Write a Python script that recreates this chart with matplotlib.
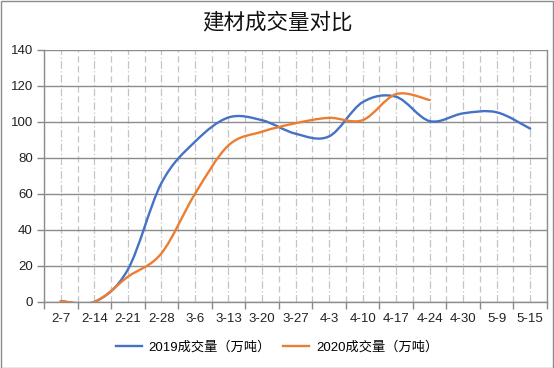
import matplotlib
matplotlib.use("Agg")
import matplotlib.pyplot as plt
from matplotlib.path import Path
from matplotlib.patches import PathPatch, Rectangle
from matplotlib.lines import Line2D
from matplotlib.ticker import FixedLocator, NullFormatter

plt.rcParams['font.family'] = ['Liberation Sans', 'Noto Sans CJK SC', 'DejaVu Sans']

dates = ['2-7', '2-14', '2-21', '2-28', '3-6', '3-13', '3-20', '3-27',
         '4-3', '4-10', '4-17', '4-24', '4-30', '5-9', '5-15']
vol_2019 = [0.5, 0, 18, 66, 89, 102.5, 101, 93.5, 92, 111, 114, 100.5, 104.8, 105.4, 96.3]
vol_2020 = [0.5, 0, 14, 27, 60, 87, 94.6, 99.3, 102.3, 101, 115.5, 112.2]

blue = '#4472C4'
orange = '#ED7D31'


def smooth_path(ys):
    # Excel-style smoothed line: cubic Bezier through points (Catmull-Rom control points)
    pts = [(i, y) for i, y in enumerate(ys)]
    verts = [pts[0]]
    codes = [Path.MOVETO]
    n = len(pts)
    for i in range(n - 1):
        p0 = pts[i - 1] if i > 0 else pts[i]
        p1 = pts[i]
        p2 = pts[i + 1]
        p3 = pts[i + 2] if i + 2 < n else pts[i + 1]
        c1 = (p1[0] + (p2[0] - p0[0]) / 6, p1[1] + (p2[1] - p0[1]) / 6)
        c2 = (p2[0] - (p3[0] - p1[0]) / 6, p2[1] - (p3[1] - p1[1]) / 6)
        verts += [c1, c2, p2]
        codes += [Path.CURVE4] * 3
    return Path(verts, codes)


fig = plt.figure(figsize=(5.54, 3.68), dpi=100)
ax = fig.add_axes([44 / 554, 66 / 368, 503 / 554, 252 / 368])

for ys, c in [(vol_2019, blue), (vol_2020, orange)]:
    ax.add_patch(PathPatch(smooth_path(ys), facecolor='none', edgecolor=c,
                           lw=1.7, capstyle='round', joinstyle='round', zorder=3))

ax.set_xlim(-0.5, len(dates) - 0.5)
ax.set_ylim(0, 140)
ax.set_yticks(range(0, 141, 20))

# category axis: ticks between categories, labels centred
ax.xaxis.set_major_locator(FixedLocator([i - 0.5 for i in range(len(dates) + 1)]))
ax.xaxis.set_major_formatter(NullFormatter())
ax.xaxis.set_minor_locator(FixedLocator(range(len(dates))))
ax.set_xticklabels(dates, minor=True)
ax.tick_params(axis='x', which='major', length=5, color='#888888', width=1)
ax.tick_params(axis='x', which='minor', length=0, pad=8, labelsize=9.5, labelcolor='#222222')
ax.tick_params(axis='y', length=5, color='#888888', width=1, labelsize=9.5,
               labelcolor='#222222', pad=3)

ax.grid(axis='y', color='#8c8c8c', lw=1, zorder=1)
ax.grid(axis='x', which='major', color='#c4c4c4', lw=0.9, ls=(0, (5, 3)))
ax.grid(axis='x', which='minor', color='#c4c4c4', lw=0.9, ls=(0, (6, 2, 1, 2)))
ax.set_axisbelow(True)

for s in ['left', 'bottom', 'right']:
    ax.spines[s].set_color('#8c8c8c')
    ax.spines[s].set_linewidth(1)
ax.spines['top'].set_visible(False)

fig.text(0.5, 1 - 23 / 368, '建材成交量对比', ha='center', va='center', fontsize=15.5,
         color='#111111')

handles = [Line2D([], [], color=blue, lw=1.7), Line2D([], [], color=orange, lw=1.7)]
fig.legend(handles, ['2019成交量（万吨）', '2020成交量（万吨）'], loc='center',
           bbox_to_anchor=(0.5, 1 - 347 / 368), ncol=2, frameon=False, fontsize=9.5,
           handlelength=2.0, handletextpad=0.5, columnspacing=0.9)

fig.patches.append(Rectangle((0.5 / 554, 0.5 / 368), 1 - 1.5 / 554, 1 - 1.5 / 368,
                             transform=fig.transFigure, fill=False, ec='#8c8c8c', lw=1))

fig.savefig('out.png', dpi=100)
